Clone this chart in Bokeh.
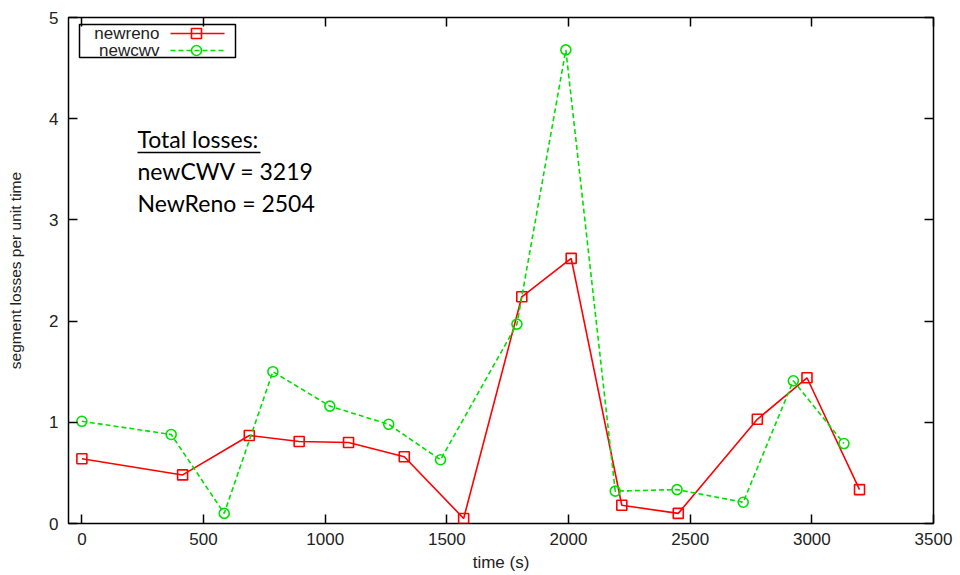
from bokeh.plotting import figure
from bokeh.models import (Range1d, LinearAxis, SingleIntervalTicker, Label,
                          BoxAnnotation, CustomJSTickFormatter)
from bokeh.embed import file_html
from bokeh.resources import INLINE

# ---------------- data ----------------
reno_t = [0, 414, 688, 893, 1096, 1325, 1569, 1808, 2011, 2219, 2451, 2776, 2980, 3196]
reno_v = [0.64, 0.48, 0.87, 0.81, 0.80, 0.66, 0.05, 2.24, 2.62, 0.18, 0.10, 1.03, 1.44, 0.335]
cwv_t = [0, 367, 585, 785, 1019, 1261, 1474, 1788, 1989, 2192, 2446, 2718, 2924, 3132]
cwv_v = [1.01, 0.88, 0.10, 1.50, 1.16, 0.98, 0.63, 1.97, 4.68, 0.32, 0.335, 0.21, 1.41, 0.79]
series_names = ["newreno", "newcwv"]
note_lines = ["Total losses:", "newCWV = 3219", "NewReno = 2504"]
x_label = "time (s)"
y_label = "segment losses per unit time"

# ---------------- layout ----------------
W, H = 960, 575
FL, FR, FT, FB = 68, 933, 17, 523
X0, X1, Y0, Y1 = -55, 3500, 0, 5

def dx(px):
    return X0 + (px - FL) * (X1 - X0) / (FR - FL)

def dy(py):
    return Y0 + (FB - py) * (Y1 - Y0) / (FB - FT)

RED = "#ff0000"
GREEN = "#00e000"
TICK_FONT = "Liberation Sans"

p = figure(width=W, height=H, output_backend="svg", toolbar_location=None,
           x_range=Range1d(X0, X1), y_range=Range1d(Y0, Y1),
           min_border_left=FL, min_border_right=W - FR,
           min_border_top=FT, min_border_bottom=H - FB,
           x_axis_label=x_label, y_axis_label=y_label)
p.background_fill_color = "white"
p.border_fill_color = "white"
p.outline_line_color = "black"
p.outline_line_width = 1.5
p.xgrid.visible = False
p.ygrid.visible = False

for ax, interval in ((p.xaxis[0], 500), (p.yaxis[0], 1)):
    ax.ticker = SingleIntervalTicker(interval=interval, num_minor_ticks=0)
    ax.axis_line_color = None
    ax.major_tick_in = 9
    ax.major_tick_out = 0
    ax.major_tick_line_width = 1.5
    ax.minor_tick_line_color = None
    ax.major_label_text_font = TICK_FONT
    ax.major_label_text_font_size = "17px"
    ax.major_label_text_color = "#222222"
    ax.axis_label_text_font = TICK_FONT
    ax.axis_label_text_font_style = "normal"
    ax.axis_label_text_color = "#222222"

p.xaxis[0].major_label_standoff = 9
p.xaxis[0].axis_label_standoff = 5
p.xaxis[0].axis_label_text_font_size = "17px"
p.yaxis[0].major_label_standoff = 10
p.yaxis[0].axis_label_standoff = 22
p.yaxis[0].axis_label_text_font_size = "15.5px"

# mirrored inward ticks on top and right (no labels)
top = LinearAxis(ticker=SingleIntervalTicker(interval=500, num_minor_ticks=0))
right = LinearAxis(ticker=SingleIntervalTicker(interval=1, num_minor_ticks=0))
for ax in (top, right):
    ax.axis_line_color = None
    ax.major_tick_in = 9
    ax.major_tick_out = 0
    ax.major_tick_line_width = 1.5
    ax.minor_tick_line_color = None
    ax.formatter = CustomJSTickFormatter(code="return ''")
    ax.major_label_standoff = 0
p.add_layout(top, "above")
p.add_layout(right, "right")

# ---------------- series ----------------
p.line(reno_t, reno_v, line_color=RED, line_width=1.6)
p.scatter(reno_t, reno_v, marker="square", size=10, fill_color=None,
          line_color=RED, line_width=1.6)
p.line(cwv_t, cwv_v, line_color=GREEN, line_width=1.6, line_dash="5 3")
p.scatter(cwv_t, cwv_v, marker="circle", size=10, fill_color=None,
          line_color=GREEN, line_width=1.6)

# ---------------- legend (gnuplot style: text left, sample right) ----------------
p.add_layout(BoxAnnotation(left=dx(79), right=dx(235), top=dy(24), bottom=dy(57),
                           fill_color="white", fill_alpha=1.0,
                           line_color="black", line_alpha=1.0, line_width=1.5,
                           level="underlay"))
leg_rows = [(33, RED, None, "square"), (50, GREEN, "5 3", "circle")]
for name, (py, col, dash, mk) in zip(series_names, leg_rows):
    p.add_layout(Label(x=dx(159), y=dy(py), text=name, text_align="right",
                       text_baseline="middle", text_font=TICK_FONT,
                       text_font_size="17px", text_color="#222222", level="overlay"))
    seg = dict(x0=[dx(170)], y0=[dy(py)], x1=[dx(224)], y1=[dy(py)])
    r = p.segment(line_color=col, line_width=1.6, **seg)
    if dash:
        r.glyph.line_dash = dash
    r.level = "overlay"
    m = p.scatter([dx(196)], [dy(py)], marker=mk, size=10, fill_color=None,
                  line_color=col, line_width=1.6)
    m.level = "overlay"

# ---------------- annotation ----------------
NOTE_FONT = "Lato"
for txt, py in zip(note_lines, (138, 170, 202)):
    p.add_layout(Label(x=dx(137), y=dy(py), text=txt, text_align="left",
                       text_baseline="middle", text_font=NOTE_FONT,
                       text_font_size="23px", text_color="black"))
p.segment(x0=[dx(137)], y0=[dy(152)], x1=[dx(260)], y1=[dy(152)],
          line_color="black", line_width=1.6)

open("out.html", "w").write(file_html(p, INLINE))
